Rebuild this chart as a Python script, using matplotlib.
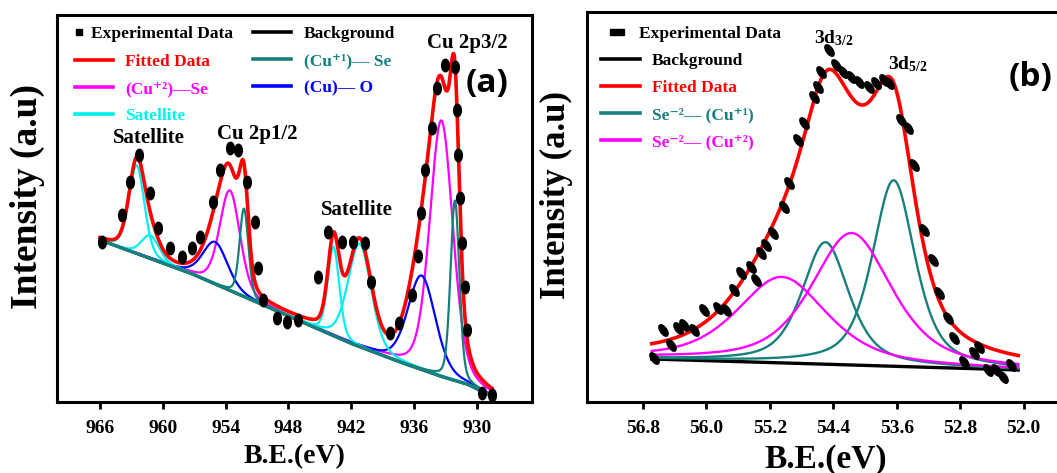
import numpy as np
import matplotlib
matplotlib.use("Agg")
import matplotlib.pyplot as plt
from matplotlib.lines import Line2D
from matplotlib.markers import MarkerStyle
from matplotlib.transforms import Affine2D

plt.rcParams['font.family'] = ['Liberation Serif', 'DejaVu Serif']
plt.rcParams['font.weight'] = 'bold'
plt.rcParams['mathtext.fontset'] = 'custom'
plt.rcParams['mathtext.rm'] = 'Liberation Serif:bold'
plt.rcParams['mathtext.it'] = 'Liberation Serif:bold'
plt.rcParams['mathtext.bf'] = 'Liberation Serif:bold'

RED = '#ff0000'
MAG = '#ff00ff'
CYAN = '#00f0f0'
BLUE = '#0000ff'
TEAL = '#17807c'

# ---------------- panel (a): Cu 2p ----------------
a_exp_be = [965.84, 963.93, 963.13, 962.25, 961.22, 960.43, 959.31, 958.20, 957.24, 956.45,
            955.18, 954.54, 953.58, 952.79, 951.99, 951.20, 950.88, 950.40, 949.12, 948.17,
            947.06, 945.15, 944.19, 942.92, 941.81, 940.69, 940.10, 938.30, 937.45, 936.23,
            935.65, 935.30, 934.96, 934.32, 933.84, 933.05, 932.09, 931.94, 931.78, 931.62,
            931.45, 931.14, 930.98, 929.54, 928.59]
a_exp_int = [160, 187, 220, 247, 209, 174, 154, 145, 154, 165,
             200, 232, 254, 252, 220, 180, 134, 102, 84, 80,
             82, 125, 170, 160, 160, 159, 120, 69, 79, 107,
             146, 189, 232, 274, 314, 337, 335, 292, 247, 204,
             159, 115, 72, 9, 7]

# Shirley-type background read along the baseline
a_bg_be = [966.0, 957.4, 942.12, 937.35, 933.53, 930.95, 928.56]
a_bg_int = [162, 129, 59, 40, 26, 18, 6]

# fitted components: centre (eV), height above background, FWHM (eV)
sat_center = [962.5, 961.2, 943.7, 941.2]
sat_height = [88, 23, 89, 103]
sat_fwhm = [1.75, 2.0, 1.3, 2.6]
cu2_center = [953.6, 933.4]
cu2_height = [100, 256]
cu2_fwhm = [2.3, 2.6]
cu1_center = [952.25, 932.1]
cu1_height = [88, 180]
cu1_fwhm = [1.0, 1.0]
cuo_center = [955.0, 935.28]
cuo_height = [42, 94]
cuo_fwhm = [2.8, 3.1]
a_eta = 0.28

a_ticks = [966, 960, 954, 948, 942, 936, 930]

# ---------------- panel (b): Se 3d ----------------
b_exp_be = [56.66, 56.55, 56.45, 56.36, 56.28, 56.16, 56.03, 55.85, 55.75, 55.65,
            55.56, 55.44, 55.38, 55.31, 55.25, 55.16, 55.02, 54.96, 54.85, 54.77,
            54.64, 54.59, 54.56, 54.45, 54.37, 54.28, 54.18, 54.08, 53.95, 53.86,
            53.76, 53.70, 53.55, 53.46, 53.38, 53.26, 53.14, 53.07, 52.95, 52.88,
            52.75, 52.63, 52.56, 52.45, 52.35, 52.26, 52.16]
b_exp_int = [44, 72, 57, 74, 77, 72, 92, 94, 92, 112,
             129, 135, 122, 149, 157, 169, 195, 219, 262, 279,
             305, 315, 330, 352, 337, 330, 325, 320, 315, 319,
             322, 319, 282, 274, 237, 172, 142, 109, 84, 64,
             40, 49, 55, 32, 32, 25, 37]

b_bg_be = [56.69, 52.07]
b_bg_int = [43, 32]

secu1_center = [54.50, 53.64]
secu1_height = [122, 186]
secu1_fwhm = [0.70, 0.64]
secu2_center = [55.05, 54.17]
secu2_height = [86, 132]
secu2_fwhm = [1.35, 1.2]
b_eta = 0.6

b_ticks = [56.8, 56.0, 55.2, 54.4, 53.6, 52.8, 52.0]


def pvoigt(x, c, h, w, eta):
    u = (x - c) / w
    return h * (eta / (1 + 4 * u ** 2) + (1 - eta) * np.exp(-4 * np.log(2) * u ** 2))


def peaks(x, centers, heights, widths, eta):
    return [pvoigt(x, c, h, w, eta) for c, h, w in zip(centers, heights, widths)]


def style_axes(ax, ticks, fmt, lblsize, ylsize, ylx):
    for s in ax.spines.values():
        s.set_linewidth(2.2)
    ax.set_yticks([])
    ax.set_xticks(ticks)
    ax.set_xticklabels([fmt % t for t in ticks])
    ax.tick_params(axis='x', direction='out', length=5, width=2, pad=8, labelsize=14)
    ax.set_xlabel('B.E.(eV)', fontsize=lblsize, fontweight='bold', labelpad=5)
    ax.set_ylabel('Intensity (a.u)', fontsize=ylsize, fontweight='bold')
    ax.yaxis.set_label_coords(ylx, 0.53)


dot_a = MarkerStyle('o', transform=Affine2D().scale(0.62, 1.0))
dot_b = MarkerStyle('o', transform=Affine2D().scale(0.5, 1.0).rotate_deg(35))

fig = plt.figure(figsize=(10.57, 4.73), dpi=100)
ax_a = fig.add_axes([57 / 1057, 71 / 473, 475 / 1057, 387 / 473])
ax_b = fig.add_axes([587 / 1057, 71 / 473, 478 / 1057, 390 / 473])

# ---- draw (a)
xa = np.linspace(a_bg_be[0], a_bg_be[-1], 1200)
bga = np.interp(xa, a_bg_be[::-1], a_bg_int[::-1])
comp_cu2 = peaks(xa, cu2_center, cu2_height, cu2_fwhm, a_eta)
comp_cuo = peaks(xa, cuo_center, cuo_height, cuo_fwhm, a_eta)
comp_sat = peaks(xa, sat_center, sat_height, sat_fwhm, a_eta)
comp_cu1 = peaks(xa, cu1_center, cu1_height, cu1_fwhm, a_eta)
ax_a.plot(xa, bga, color='black', lw=2.2)
for p in comp_cu2:
    ax_a.plot(xa, bga + p, color=MAG, lw=1.6)
for p in comp_cuo:
    ax_a.plot(xa, bga + p, color=BLUE, lw=1.6)
for p in comp_sat:
    ax_a.plot(xa, bga + p, color=CYAN, lw=1.6)
for p in comp_cu1:
    ax_a.plot(xa, bga + p, color=TEAL, lw=1.6)
ax_a.plot(xa, bga, color=TEAL, lw=2.4)
fit_a = bga + sum(comp_cu2) + sum(comp_cuo) + sum(comp_sat) + sum(comp_cu1)
ax_a.plot(xa, fit_a, color=RED, lw=2.6)
ax_a.plot(a_exp_be, a_exp_int, ls='none', marker=dot_a, ms=9, color='black')
ax_a.set_xlim(970.11, 924.74)
ax_a.set_ylim(0, 387)
style_axes(ax_a, a_ticks, '%d', 20, 27, -0.025)

ax_a.text(961.32, 264, 'Satellite', fontsize=15, ha='center', va='center')
ax_a.text(951.0, 268, 'Cu 2p1/2', fontsize=15, ha='center', va='center')
ax_a.text(941.45, 192, 'Satellite', fontsize=15, ha='center', va='center')
ax_a.text(930.9, 359, 'Cu 2p3/2', fontsize=15, ha='center', va='center')
ax_a.text(0.905, 0.824, '(a)', transform=ax_a.transAxes, fontsize=24, ha='center',
          va='center', family='Open Sans', fontweight='bold')

lk = dict(frameon=False, fontsize=12.5, handlelength=2.2, handletextpad=0.7,
          labelspacing=0.64, borderaxespad=0, borderpad=0)
h_exp = Line2D([], [], ls='none', marker='s', ms=5, color='black')
leg1 = ax_a.legend([h_exp], ['Experimental Data'], loc='upper left',
                   bbox_to_anchor=(0.038, 0.972),
                   **{**lk, 'handlelength': 0.5, 'handletextpad': 0.4})
ax_a.add_artist(leg1)
hs = [Line2D([], [], color=c, lw=2.6) for c in (RED, MAG, CYAN)]
leg2 = ax_a.legend(hs, ['Fitted Data', '(Cu⁺²)—Se', 'Satellite'], loc='upper left',
                   bbox_to_anchor=(0.038, 0.90), **lk)
for t, c in zip(leg2.get_texts(), (RED, MAG, CYAN)):
    t.set_color(c)
ax_a.add_artist(leg2)
hs = [Line2D([], [], color=c, lw=2.6) for c in ('black', TEAL, BLUE)]
leg3 = ax_a.legend(hs, ['Background', '(Cu⁺¹)— Se', '(Cu)— O'], loc='upper left',
                   bbox_to_anchor=(0.413, 0.972), **lk)
for t, c in zip(leg3.get_texts(), ('black', TEAL, BLUE)):
    t.set_color(c)

# ---- draw (b)
xb = np.linspace(b_bg_be[0], b_bg_be[-1], 800)
bgb = np.interp(xb, b_bg_be[::-1], b_bg_int[::-1])
comp_s1 = peaks(xb, secu1_center, secu1_height, secu1_fwhm, b_eta)
comp_s2 = peaks(xb, secu2_center, secu2_height, secu2_fwhm, b_eta)
ax_b.plot(xb, bgb, color='black', lw=2.4)
for p in comp_s1:
    ax_b.plot(xb, bgb + p, color=TEAL, lw=1.7)
for p in comp_s2:
    ax_b.plot(xb, bgb + p, color=MAG, lw=1.7)
fit_b = bgb + sum(comp_s1) + sum(comp_s2)
ax_b.plot(xb, fit_b, color=RED, lw=2.6)
ax_b.plot(b_exp_be, b_exp_int, ls='none', marker=dot_b, ms=9.5, color='black')
ax_b.set_xlim(57.506, 51.48)
ax_b.set_ylim(0, 390)
style_axes(ax_b, b_ticks, '%.1f', 24, 25, -0.029)

ax_b.text(54.40, 364, '3d$_{3/2}$', fontsize=14, ha='center', va='center')
ax_b.text(53.46, 338, '3d$_{5/2}$', fontsize=14, ha='center', va='center')
ax_b.text(0.929, 0.833, '(b)', transform=ax_b.transAxes, fontsize=24, ha='center',
          va='center', family='Open Sans', fontweight='bold')

h_expb = Line2D([], [], ls='none', color='black',
                marker=MarkerStyle('s', transform=Affine2D().scale(1.6, 0.8)), ms=6)
leg4 = ax_b.legend([h_expb], ['Experimental Data'], loc='upper left',
                   bbox_to_anchor=(0.04, 0.965), **{**lk, 'handlelength': 1.2})
ax_b.add_artist(leg4)
bcols = ('black', RED, TEAL, MAG)
hs = [Line2D([], [], color=c, lw=2.6) for c in bcols]
leg5 = ax_b.legend(hs, ['Background', 'Fitted Data', 'Se⁻²— (Cu⁺¹)', 'Se⁻²— (Cu⁺²)'],
                   loc='upper left', bbox_to_anchor=(0.03, 0.896), **lk)
for t, c in zip(leg5.get_texts(), bcols):
    t.set_color(c)

fig.savefig('out.png', dpi=100)
